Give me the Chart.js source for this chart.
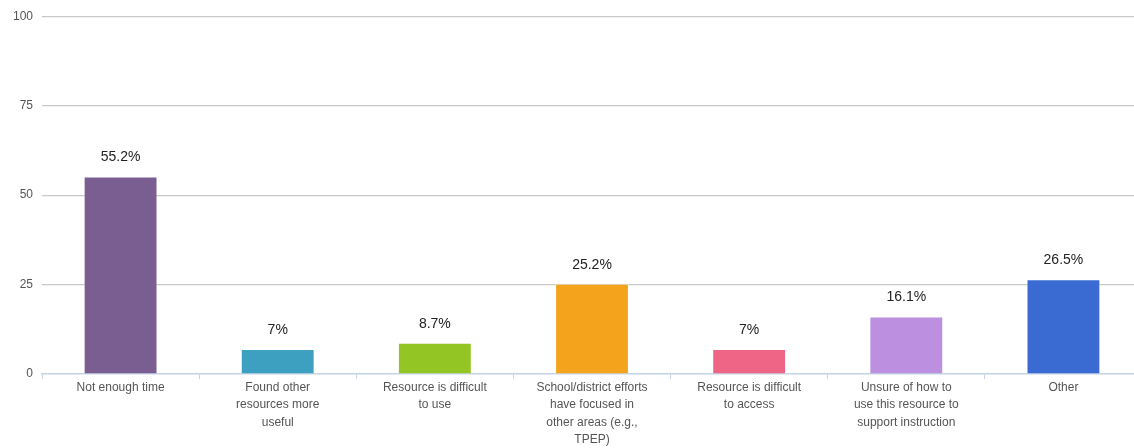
<!DOCTYPE html>
<html>
<head>
<meta charset="utf-8">
<script src="https://cdn.jsdelivr.net/npm/chart.js@4/dist/chart.umd.min.js"></script>
<style>
  html, body { margin: 0; padding: 0; background: #fff; overflow: hidden; }
  #wrap { width: 1142px; height: 448px; position: relative; }
</style>
</head>
<body>
<div id="wrap"><canvas id="chart"></canvas></div>
<script>
// Reasons for not using the resource (percent of respondents)
const categories = [
    ['Not enough time'],
    ['Found other', 'resources more', 'useful'],
    ['Resource is difficult', 'to use'],
    ['School/district efforts', 'have focused in', 'other areas (e.g.,', 'TPEP)'],
    ['Resource is difficult', 'to access'],
    ['Unsure of how to', 'use this resource to', 'support instruction'],
    ['Other']
];
const values = [55.2, 7, 8.7, 25.2, 7, 16.1, 26.5];
const valueLabels = ['55.2%', '7%', '8.7%', '25.2%', '7%', '16.1%', '26.5%'];
const yTicks = [0, 25, 50, 75, 100];
const barColors = ['#7b5e91', '#3ea0c0', '#93c524', '#f4a41c', '#ef6585', '#bd8fe0', '#3a6bd3'];

const FONT = 'Liberation Sans, Arial, Helvetica, sans-serif';

// Draw the percentage above each bar
const valueLabelPlugin = {
    id: 'valueLabels',
    afterDatasetsDraw(chart) {
        const ctx = chart.ctx;
        const meta = chart.getDatasetMeta(0);
        ctx.save();
        ctx.font = '14px ' + FONT;
        ctx.fillStyle = '#222';
        ctx.textAlign = 'center';
        ctx.textBaseline = 'middle';
        meta.data.forEach((bar, i) => {
            ctx.fillText(valueLabels[i], bar.x, bar.y - 19);
        });
        ctx.restore();
    }
};

new Chart(document.getElementById('chart').getContext('2d'), {
    type: 'bar',
    data: {
        labels: categories,
        datasets: [{
            data: values,
            backgroundColor: barColors,
            borderColor: 'rgba(255,255,255,0.45)',
            borderWidth: 1,
            barPercentage: 0.47,
            categoryPercentage: 1
        }]
    },
    options: {
        responsive: true,
        maintainAspectRatio: false,
        animation: false,
        layout: { padding: { top: 16, left: 0, right: 0, bottom: 0 } },
        plugins: {
            legend: { display: false },
            tooltip: { enabled: false }
        },
        scales: {
            x: {
                grid: {
                    offset: true,
                    drawOnChartArea: false,
                    drawTicks: true,
                    tickLength: 5,
                    color: '#c5d3e3'
                },
                border: { display: true, color: '#c5d3e3', width: 1.5 },
                ticks: {
                    color: '#555',
                    font: { family: FONT, size: 12, lineHeight: 1.45 },
                    maxRotation: 0,
                    autoSkip: false,
                    padding: 0
                },
                afterFit(scale) { scale.height = 74; }
            },
            y: {
                min: 0,
                max: 100,
                afterBuildTicks(scale) {
                    scale.ticks = yTicks.map(v => ({ value: v }));
                },
                grid: {
                    color: (c) => c.tick && c.tick.value === 0 ? 'rgba(0,0,0,0)' : '#c8c8c8',
                    lineWidth: 1.2,
                    drawTicks: false
                },
                border: { display: false },
                ticks: {
                    color: '#555',
                    font: { family: FONT, size: 12 },
                    padding: 9
                },
                afterFit(scale) { scale.width = 42; }
            }
        }
    },
    plugins: [valueLabelPlugin]
});
</script>
</body>
</html>
